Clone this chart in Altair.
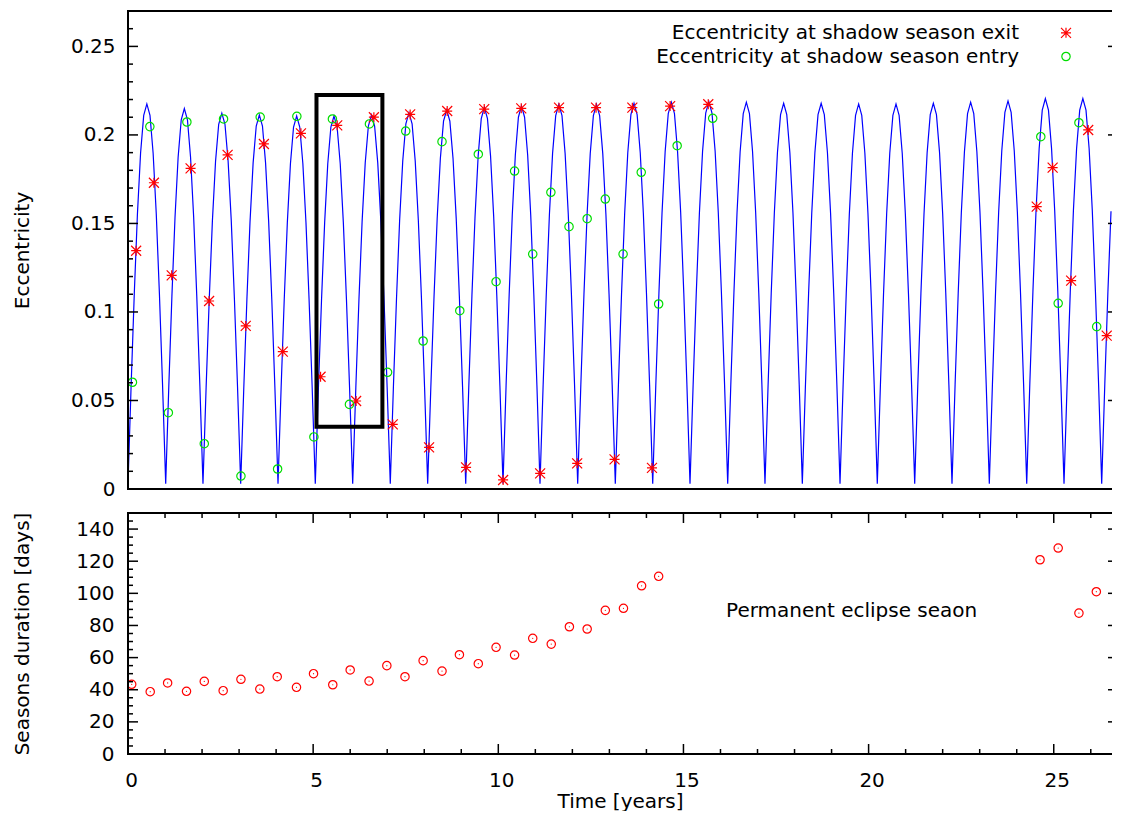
import altair as alt
import pandas as pd

# ---------------- values ----------------
# Blue eccentricity curve: times of the minima (years) and height of each arch
VALLEY_T = [0.0, 1.018, 2.025, 3.043, 4.051, 5.058, 6.068, 7.083, 8.093, 9.120,
            10.127, 11.126, 12.144, 13.160, 14.170, 15.177, 16.195, 17.202, 18.210,
            19.228, 20.235, 21.245, 22.252, 23.260, 24.270, 25.277, 26.295, 27.300]
PEAK_E = [0.2175, 0.2149, 0.2123, 0.2113, 0.2107, 0.2107, 0.2113, 0.2126, 0.2141,
          0.2156, 0.2164, 0.2173, 0.2173, 0.2179, 0.2185, 0.2188, 0.2185, 0.2179,
          0.2179, 0.2175, 0.2175, 0.2179, 0.2185, 0.2192, 0.2205, 0.2205, 0.2198]
# relative height of one arch, read at twelve equal steps across it
ARCH_PROFILE = [0.0, 0.26, 0.5, 0.71, 0.87, 0.97, 1.0, 0.97, 0.87, 0.71, 0.5, 0.26]
VALLEY_FLOOR = 0.003

# Eccentricity at shadow season exit (red stars)
EXIT_T = [0.22, 0.70, 1.18, 1.69, 2.19, 2.69, 3.18, 3.67, 4.18, 4.67,
          5.20, 5.65, 6.16, 6.64, 7.15, 7.62, 8.13, 8.62, 9.13, 9.62,
          10.13, 10.62, 11.13, 11.64, 12.13, 12.64, 13.14, 13.62, 14.15, 14.64,
          15.67, 24.54, 24.97, 25.47, 25.93, 26.43, 26.82]
EXIT_E = [0.1346, 0.1730, 0.1207, 0.1811, 0.1062, 0.1887, 0.0921, 0.1949, 0.0776, 0.2009,
          0.0634, 0.2054, 0.0497, 0.2100, 0.0365, 0.2116, 0.0235, 0.2135, 0.0122, 0.2146,
          0.0051, 0.2150, 0.0088, 0.2154, 0.0145, 0.2154, 0.0167, 0.2154, 0.0119, 0.2163,
          0.2173, 0.1595, 0.1815, 0.1177, 0.2028, 0.0866, 0.2116]

# Eccentricity at shadow season entry (green circles)
ENTRY_T = [0.12, 0.59, 1.09, 1.59, 2.06, 2.58, 3.05, 3.57, 4.04, 4.56,
           5.02, 5.52, 5.98, 6.52, 7.01, 7.50, 7.97, 8.48, 8.96, 9.46,
           9.94, 10.44, 10.93, 11.42, 11.91, 12.40, 12.89, 13.37, 13.86, 14.33,
           14.83, 15.79, 24.65, 25.12, 25.68, 26.16, 26.70]
ENTRY_E = [0.0603, 0.2047, 0.0431, 0.2073, 0.0256, 0.2090, 0.0073, 0.2101, 0.0113, 0.2105,
           0.0294, 0.2090, 0.0478, 0.2062, 0.0659, 0.2022, 0.0836, 0.1962, 0.1007, 0.1891,
           0.1171, 0.1796, 0.1327, 0.1676, 0.1482, 0.1527, 0.1638, 0.1327, 0.1789, 0.1045,
           0.1939, 0.2094, 0.1990, 0.1049, 0.2069, 0.0917, 0.2062]

# Seasons duration (days)
DUR_T = [0.10, 0.60, 1.07, 1.58, 2.06, 2.57, 3.05, 3.56, 4.03, 4.55,
         5.01, 5.53, 6.00, 6.51, 6.99, 7.48, 7.97, 8.48, 8.95, 9.46,
         9.94, 10.44, 10.93, 11.43, 11.92, 12.40, 12.89, 13.38, 13.87, 14.33,
         24.63, 25.12, 25.68, 26.15, 26.68]
DUR_D = [43.4, 38.8, 44.2, 39.0, 45.2, 39.4, 46.5, 40.4, 48.1, 41.5,
         50.0, 43.1, 52.3, 45.4, 55.0, 48.1, 58.1, 51.6, 61.8, 56.2,
         66.4, 61.6, 72.0, 68.4, 79.2, 77.8, 89.4, 90.7, 104.7, 110.6,
         120.9, 128.2, 87.7, 101.0, 71.8]

# highlighted box (years, eccentricity)
BOX_T = [5.09, 6.87]
BOX_E = [0.0352, 0.2226]

LEGEND_LABELS = ["Eccentricity at shadow season exit", "Eccentricity at shadow season entry"]
NOTE_TEXT = ["Permanent eclipse seaon"]
NOTE_T = [16.15]
NOTE_D = [88.8]

PX_PER_YEAR = 37.03
W, H1, H2 = 984, 478, 241
X_MAX = W / PX_PER_YEAR          # the picture is cropped on the right
X_TICKS = [0, 5, 10, 15, 20, 25]
X_MINOR = [i for i in range(1, 27) if i % 5]
TOP_Y_TICKS = [0, 0.05, 0.1, 0.15, 0.2, 0.25]
TOP_Y_MINOR = [round(i * 0.01, 2) for i in range(1, 27) if i % 5]
BOT_Y_TICKS = [0, 20, 40, 60, 80, 100, 120, 140]
BOT_Y_MINOR = [i for i in range(5, 150, 5) if i % 20]

# ---------------- tables ----------------
line_t, line_e = [], []
n = len(ARCH_PROFILE)
for i, peak in enumerate(PEAK_E):
    t0, t1 = VALLEY_T[i], VALLEY_T[i + 1]
    for k, p in enumerate(ARCH_PROFILE):
        line_t.append(t0 + (t1 - t0) * k / n)
        line_e.append(VALLEY_FLOOR + (peak - VALLEY_FLOOR) * p)
line_t.append(VALLEY_T[-1])
line_e.append(VALLEY_FLOOR)


def visible(df):
    return df[df["t"] <= X_MAX]


df_line = visible(pd.DataFrame({"t": line_t, "e": line_e}))
df_exit = visible(pd.DataFrame({"t": EXIT_T, "e": EXIT_E}))
df_entry = visible(pd.DataFrame({"t": ENTRY_T, "e": ENTRY_E}))
df_dur = visible(pd.DataFrame({"t": DUR_T, "d": DUR_D}))
df_box = pd.DataFrame({"t": [BOX_T[0]], "t2": [BOX_T[1]], "e": [BOX_E[0]], "e2": [BOX_E[1]]})
df_note = pd.DataFrame({"t": NOTE_T, "d": NOTE_D, "txt": NOTE_TEXT})
df_one = pd.DataFrame({"k": [0]})

FONT = "DejaVu Sans"
RED, GREEN, BLUE = "#ff0000", "#00dd00", "#0000ff"
STAR = "M-1,0L1,0M0,-1L0,1M-1,-1L1,1M-1,1L1,-1"

xs = alt.Scale(domain=[0, X_MAX], nice=False, zero=False)
ys1 = alt.Scale(domain=[0, 0.27], nice=False, zero=False)
ys2 = alt.Scale(domain=[0, 150], nice=False, zero=False)

x_top = alt.X("t:Q", scale=xs, axis=None)
y_top = alt.Y("e:Q", scale=ys1,
              axis=alt.Axis(values=TOP_Y_TICKS, format="~g", title="Eccentricity",
                            labelPadding=13, titleX=-96))
x_bot = alt.X("t:Q", scale=xs,
              axis=alt.Axis(values=X_TICKS, title="Time [years]", labelPadding=16.5,
                            labelOffset=3, titleY=37))
y_bot = alt.Y("d:Q", scale=ys2,
              axis=alt.Axis(values=BOT_Y_TICKS, title="Seasons duration [days]",
                            labelPadding=14, titleX=-96))


def hticks(values, field, yenc, length, right=False):
    df = pd.DataFrame({field: values})
    if right:
        xe = dict(x=alt.value(W - length), x2=alt.value(W))
    else:
        xe = dict(x=alt.value(0), x2=alt.value(length))
    return alt.Chart(df).mark_rule(color="black", strokeWidth=1.5).encode(y=yenc, **xe)


def vticks(values, xenc, height, length, top=True):
    df = pd.DataFrame({"t": values})
    if top:
        ye = dict(y=alt.value(0), y2=alt.value(length))
    else:
        ye = dict(y=alt.value(height - length), y2=alt.value(height))
    return alt.Chart(df).mark_rule(color="black", strokeWidth=1.5).encode(x=xenc, **ye)


def borders(height):
    base = alt.Chart(df_one).mark_rule(color="black", strokeWidth=2)
    return [
        base.encode(x=alt.value(0), y=alt.value(-1), y2=alt.value(height + 1)),
        base.encode(x=alt.value(0), x2=alt.value(W), y=alt.value(0)),
        base.encode(x=alt.value(0), x2=alt.value(W), y=alt.value(height)),
    ]


# ---------------- top panel ----------------
curve = alt.Chart(df_line).mark_line(color=BLUE, strokeWidth=1.2, clip=True).encode(
    x=x_top, y=y_top, order="t:Q")
stars = alt.Chart(df_exit).mark_point(shape=STAR, size=100, color=RED, strokeWidth=1.2,
                                      filled=False, opacity=1, clip=True).encode(x=x_top, y=y_top)
circles = alt.Chart(df_entry).mark_point(shape="circle", size=70, color=GREEN, strokeWidth=1.2,
                                         filled=False, opacity=1, clip=True).encode(x=x_top, y=y_top)
box = alt.Chart(df_box).mark_rect(fillOpacity=0, stroke="black", strokeWidth=4).encode(
    x=x_top, x2="t2:Q", y=y_top, y2="e2:Q")

leg_df = pd.DataFrame({"label": LEGEND_LABELS})
leg_text1 = alt.Chart(leg_df.iloc[[0]]).mark_text(align="right", baseline="middle", fontSize=20,
                                                  font=FONT, color="black").encode(
    text="label:N", x=alt.value(891), y=alt.value(22.2))
leg_text2 = alt.Chart(leg_df.iloc[[1]]).mark_text(align="right", baseline="middle", fontSize=20,
                                                  font=FONT, color="black").encode(
    text="label:N", x=alt.value(891), y=alt.value(45.6))
leg_sym1 = alt.Chart(leg_df.iloc[[0]]).mark_point(shape=STAR, size=100, color=RED, strokeWidth=1.2,
                                                  filled=False, opacity=1).encode(
    x=alt.value(938), y=alt.value(21.8))
leg_sym2 = alt.Chart(leg_df.iloc[[1]]).mark_point(shape="circle", size=70, color=GREEN,
                                                  strokeWidth=1.2, filled=False, opacity=1).encode(
    x=alt.value(938), y=alt.value(45.5))

top = alt.layer(
    curve, stars, circles, box,
    hticks(TOP_Y_TICKS, "e", y_top, 10),
    hticks(TOP_Y_MINOR, "e", y_top, 5),
    hticks(TOP_Y_TICKS, "e", y_top, 4, right=True),
    *borders(H1),
    leg_text1, leg_text2, leg_sym1, leg_sym2,
).properties(width=W, height=H1)

# ---------------- bottom panel ----------------
dur = alt.Chart(df_dur).mark_point(shape="circle", size=70, color=RED, strokeWidth=1.2,
                                   filled=False, opacity=1, clip=True).encode(x=x_bot, y=y_bot)
dots = alt.Chart(df_dur).mark_point(shape="circle", size=1.5, color=RED, filled=True,
                                    opacity=1, clip=True).encode(x=x_bot, y=y_bot)
note = alt.Chart(df_note).mark_text(align="left", baseline="middle", fontSize=20, font=FONT,
                                    color="black").encode(x=x_bot, y=y_bot, text="txt:N")

bottom = alt.layer(
    dur, dots, note,
    hticks(BOT_Y_TICKS, "d", y_bot, 10),
    hticks(BOT_Y_MINOR, "d", y_bot, 5),
    hticks(BOT_Y_TICKS, "d", y_bot, 4, right=True),
    vticks(X_TICKS, x_bot, H2, 10, top=True),
    vticks(X_MINOR, x_bot, H2, 5, top=True),
    vticks(X_TICKS, x_bot, H2, 10, top=False),
    vticks(X_MINOR, x_bot, H2, 5, top=False),
    *borders(H2),
).properties(width=W, height=H2)

chart = alt.vconcat(top, bottom, spacing=12).properties(
    padding={"left": 3, "top": 1, "right": 0, "bottom": 0}
).configure(font=FONT).configure_axis(
    grid=False, ticks=False, tickSize=0, domain=False,
    labelFontSize=20, titleFontSize=20, labelColor="black", titleColor="black",
    titleFontWeight="normal", labelFlush=False, labelOverlap=False,
    labelFont=FONT, titleFont=FONT,
).configure_view(stroke="transparent", strokeWidth=0)

chart.save("out.html", embed_options={"renderer": "svg", "actions": False})
